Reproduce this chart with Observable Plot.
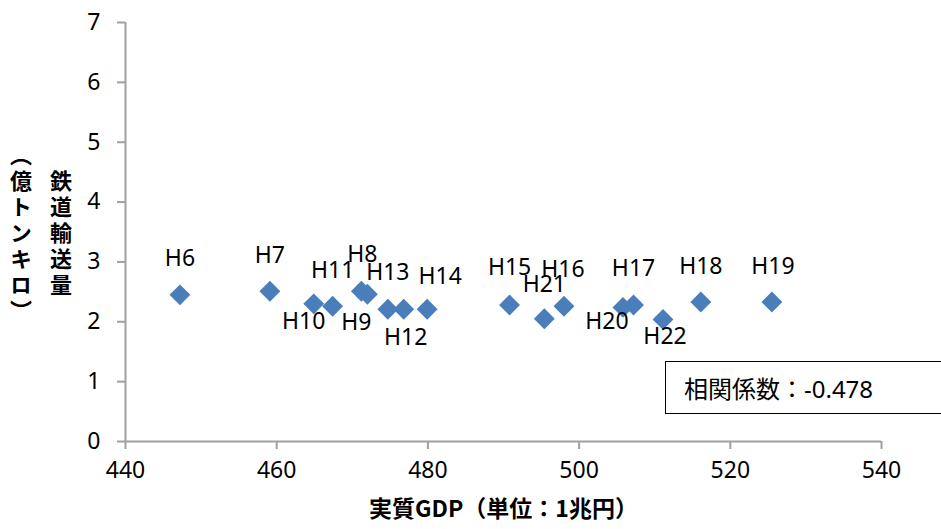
<!DOCTYPE html>
<html>
<head>
<meta charset="utf-8">
<script src="https://cdn.jsdelivr.net/npm/d3@7"></script>
<script src="https://cdn.jsdelivr.net/npm/@observablehq/plot@0.6"></script>
<style>
  html, body { margin: 0; padding: 0; background: #fff; overflow: hidden; }
  #wrap { position: relative; width: 941px; height: 529px; overflow: hidden; }
  #ytitle {
    position: absolute; left: 1px; top: 130px; width: 80px; height: 210px;
    writing-mode: vertical-rl; text-align: center;
    font-family: "Noto Sans CJK JP", sans-serif; font-weight: bold;
    font-size: 22px; line-height: 40px; letter-spacing: 4px; color: #000;
  }
  #corr {
    position: absolute; left: 665px; top: 361px; width: 300px; height: 51px;
    border: 1.5px solid #000; background: #fff; box-sizing: content-box;
    font-family: "Noto Sans", "Noto Sans CJK JP", sans-serif; font-size: 24px;
    line-height: 51px; padding-left: 18px; color: #000;
  }
  #corr .jp { font-family: "Noto Sans CJK JP", sans-serif; }
</style>
</head>
<body>
<div id="wrap"></div>
<script>
// ---- data ----
const labels = ["H6","H7","H8","H9","H10","H11","H12","H13","H14","H15","H16","H17","H18","H19","H20","H21","H22"];
const gdp = [447.2, 459.1, 471.2, 472.0, 464.9, 467.4, 476.8, 474.7, 479.9, 490.8, 498.0, 507.2, 516.1, 525.5, 505.8, 495.4, 511.1];
const freight = [2.45, 2.51, 2.51, 2.46, 2.30, 2.26, 2.21, 2.21, 2.21, 2.28, 2.26, 2.28, 2.33, 2.33, 2.24, 2.05, 2.04];
// label placement relative to its point (pixels): [dx, dy]
const labelNudge = [[0,-36],[0,-36],[1,-37],[-11,28],[-10,18],[0,-36],[2,28],[0,-37],[13,-33],[0,-37],[-1,-37],[0,-36],[0,-35],[1,-35],[-16,14],[0,-34],[2,17]];
const xTicks = [440, 460, 480, 500, 520, 540];
const yTicks = [0, 1, 2, 3, 4, 5, 6, 7];
const xTitle = "実質GDP（単位：1兆円）";
const yTitleLines = ["鉄道輸送量", "（億トンキロ）"];
const corrLabel = "相関係数";
const corrValue = -0.478;

const data = labels.map((l, i) => ({label: l, gdp: gdp[i], freight: freight[i]}));

const axisGray = "#a0a0a0";
const latin = "'Noto Sans', 'Noto Sans CJK JP', sans-serif";
const fs = 23;

const labelMarks = data.map((d, i) =>
  Plot.text([d], {x: "gdp", y: "freight", text: "label", dx: labelNudge[i][0], dy: labelNudge[i][1], fontSize: fs, fill: "#000"})
);

const chart = Plot.plot({
  width: 941,
  height: 529,
  marginLeft: 125,
  marginRight: 60,
  marginTop: 22,
  marginBottom: 88,
  style: {fontFamily: latin, fontSize: fs + "px", color: "#000", background: "#fff"},
  x: {domain: [440, 540]},
  y: {domain: [0, 7]},
  marks: [
    Plot.axisX({ticks: xTicks, tickSize: 8, tickPadding: 12, stroke: axisGray, strokeWidth: 2, fill: "#000", label: null, fontSize: fs}),
    Plot.axisY({ticks: yTicks, tickFormat: d3.format("d"), tickSize: 8, tickPadding: 17, stroke: axisGray, strokeWidth: 2, fill: "#000", label: null, fontSize: fs}),
    Plot.ruleY([0], {stroke: axisGray, strokeWidth: 2}),
    Plot.ruleX([440], {stroke: axisGray, strokeWidth: 2}),
    Plot.dot(data, {x: "gdp", y: "freight", symbol: "diamond2", r: 9.4, fill: "#4a7ebb", stroke: "none"}),
    ...labelMarks,
    Plot.text([xTitle], {frameAnchor: "bottom", dy: 75, fontSize: 23, fontWeight: "bold", fontFamily: "'Noto Sans CJK JP', sans-serif", fill: "#000"})
  ]
});

const wrap = document.getElementById("wrap");
wrap.appendChild(chart);

const yt = document.createElement("div");
yt.id = "ytitle";
yt.innerHTML = yTitleLines.join("<br>");
wrap.appendChild(yt);

const corr = document.createElement("div");
corr.id = "corr";
corr.innerHTML = `<span class="jp">${corrLabel}：</span>${corrValue.toFixed(3)}`;
wrap.appendChild(corr);
</script>
</body>
</html>
